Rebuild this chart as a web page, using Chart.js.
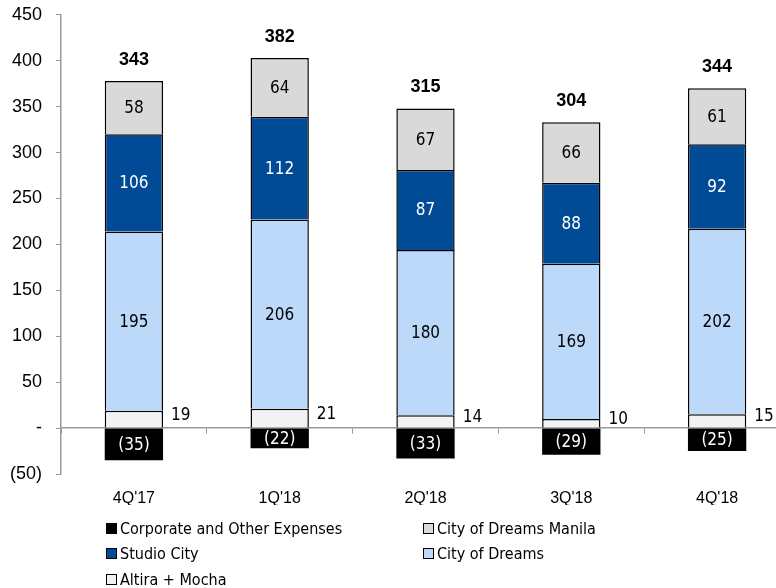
<!DOCTYPE html>
<html>
<head>
<meta charset="utf-8">
<script src="https://cdn.jsdelivr.net/npm/chart.js@4/dist/chart.umd.min.js"></script>
<style>
  html, body { margin: 0; padding: 0; background: #fff; overflow: hidden; }
  #wrap { position: relative; width: 790px; height: 515px; margin-top: -10px; }
  #legend { position: absolute; left: 0; top: 0; width: 776px; height: 588px; pointer-events: none;
            font-family: "DejaVu Sans Condensed", "DejaVu Sans", sans-serif; font-size: 16px; color: #000; }
  .item { position: absolute; display: flex; align-items: center; height: 20px; white-space: nowrap; }
  .box { width: 9px; height: 9px; border: 1px solid #000; margin-right: 3px; }
</style>
</head>
<body>
<div id="wrap"><canvas id="chart"></canvas></div>
<div id="legend"></div>
<script>
const categories = ["4Q'17", "1Q'18", "2Q'18", "3Q'18", "4Q'18"];
const corporateExpenses = [-35, -22, -33, -29, -25];
const altiraMocha = [19, 21, 14, 10, 15];
const cityOfDreams = [195, 206, 180, 169, 202];
const studioCity = [106, 112, 87, 88, 92];
const cityOfDreamsManila = [58, 64, 67, 66, 61];
const totals = [343, 382, 315, 304, 344];

const colors = {
  corporate: '#000000',
  altira: '#F2F2F2',
  cod: '#BDD9FA',
  studio: '#004A96',
  manila: '#D9D9D9'
};

const labelFont = '"DejaVu Sans Condensed", "DejaVu Sans", sans-serif';
const tickFont = '"Liberation Sans", Arial, sans-serif';

function fmt(v) {
  if (v === 0) return '-';
  return v < 0 ? '(' + (-v) + ')' : String(v);
}

const series = [
  { label: 'Corporate and Other Expenses', data: corporateExpenses, color: colors.corporate, text: '#fff' },
  { label: 'Altira + Mocha', data: altiraMocha, color: colors.altira, text: '#000', outside: true },
  { label: 'City of Dreams', data: cityOfDreams, color: colors.cod, text: '#000' },
  { label: 'Studio City', data: studioCity, color: colors.studio, text: '#fff' },
  { label: 'City of Dreams Manila', data: cityOfDreamsManila, color: colors.manila, text: '#000' }
];

const barLabels = {
  id: 'barLabels',
  afterDatasetsDraw(chart) {
    const ctx = chart.ctx;
    ctx.save();
    ctx.textBaseline = 'middle';
    series.forEach((s, di) => {
      const meta = chart.getDatasetMeta(di);
      meta.data.forEach((bar, i) => {
        const p = bar.getProps(['x', 'y', 'base', 'width'], true);
        const cy = (p.y + p.base) / 2;
        ctx.font = '17px ' + labelFont;
        ctx.fillStyle = s.text;
        if (s.outside) {
          ctx.textAlign = 'left';
          ctx.fillText(fmt(s.data[i]), p.x + p.width / 2 + 8, cy - 4);
        } else {
          ctx.textAlign = 'center';
          ctx.fillText(fmt(s.data[i]), p.x, cy + 1);
        }
      });
    });
    // totals above the stacks
    const top = chart.getDatasetMeta(series.length - 1);
    ctx.font = 'bold 18px ' + tickFont;
    ctx.fillStyle = '#000';
    ctx.textAlign = 'center';
    top.data.forEach((bar, i) => {
      const p = bar.getProps(['x', 'y'], true);
      ctx.fillText(String(totals[i]), p.x, p.y - 21);
    });
    ctx.restore();
  }
};

new Chart(document.getElementById('chart'), {
  type: 'bar',
  data: {
    labels: categories,
    datasets: series.map((s, i) => ({
      label: s.label,
      data: s.data,
      backgroundColor: s.color,
      borderColor: '#000',
      borderWidth: i === 0 ? 0 : 1.5,
      stack: 'q',
      barPercentage: 0.4,
      categoryPercentage: 1.0
    }))
  },
  options: {
    responsive: true,
    maintainAspectRatio: false,
    animation: false,
    layout: { padding: { top: 4, left: 0, right: 0, bottom: 0 } },
    plugins: { legend: { display: false }, tooltip: { enabled: false } },
    scales: {
      x: {
        stacked: true,
        position: 'bottom',
        grid: { display: false, drawTicks: false },
        border: { display: false },
        ticks: { color: '#000', padding: 15, font: { family: tickFont, size: 16 } },
        afterFit(scale) { scale.height = 31; }
      },
      xZero: {
        axis: 'x',
        type: 'category',
        position: { y: 0 },
        grid: { offset: true, drawOnChartArea: false, tickLength: 5, color: '#999' },
        border: { color: '#999', width: 1.5 },
        ticks: { display: false }
      },
      y: {
        stacked: true,
        min: -50,
        max: 450,
        grid: { drawOnChartArea: false, tickLength: 5, color: '#999' },
        border: { color: '#999', width: 1.5 },
        ticks: {
          stepSize: 50,
          color: '#000',
          padding: 14,
          font: { family: tickFont, size: 18 },
          callback: v => fmt(v)
        },
        afterFit(scale) { scale.width = 61; }
      }
    }
  },
  plugins: [barLabels]
});

// legend in two columns, same order as the original
const legendItems = [
  { s: series[0], col: 0, row: 0 },
  { s: series[4], col: 1, row: 0 },
  { s: series[3], col: 0, row: 1 },
  { s: series[2], col: 1, row: 1 },
  { s: series[1], col: 0, row: 2 }
];
const colX = [106, 423];
const rowY = [518, 543, 569];
const legend = document.getElementById('legend');
legendItems.forEach(it => {
  const el = document.createElement('div');
  el.className = 'item';
  el.style.left = colX[it.col] + 'px';
  el.style.top = rowY[it.row] + 'px';
  const box = document.createElement('span');
  box.className = 'box';
  box.style.background = it.s.color;
  el.appendChild(box);
  el.appendChild(document.createTextNode(it.s.label));
  legend.appendChild(el);
});
</script>
</body>
</html>
